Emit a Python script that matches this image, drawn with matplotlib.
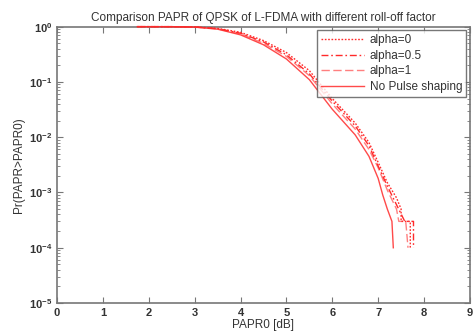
import matplotlib
matplotlib.use("Agg")
import matplotlib.pyplot as plt

plt.rcParams['font.family'] = ['Liberation Sans', 'DejaVu Sans']

# CCDF curves
papr_a0 = [1.75, 2.5, 3.0, 3.5, 4.0, 4.5, 5.0, 5.5, 6.0, 6.5, 6.8, 7.0, 7.2, 7.4, 7.5, 7.5, 7.7, 7.7]
ccdf_a0 = [1.0, 0.999, 0.99, 0.93, 0.79, 0.56, 0.34, 0.16, 0.05, 0.018, 0.008, 0.0035, 0.0015, 0.0008, 0.0005, 0.0003, 0.0003, 0.0001]

papr_a05 = [1.75, 2.5, 3.0, 3.5, 4.0, 4.5, 5.0, 5.5, 6.0, 6.5, 6.8, 7.0, 7.2, 7.4, 7.58, 7.6, 7.77, 7.77]
ccdf_a05 = [1.0, 0.999, 0.987, 0.92, 0.76, 0.53, 0.31, 0.14, 0.045, 0.016, 0.007, 0.003, 0.0013, 0.0006, 0.0003, 0.0003, 0.0003, 0.0001]

papr_a1 = [1.75, 2.5, 3.0, 3.5, 4.0, 4.5, 5.0, 5.5, 6.0, 6.5, 6.8, 7.0, 7.2, 7.4, 7.45, 7.6, 7.62, 7.65]
ccdf_a1 = [1.0, 0.999, 0.985, 0.91, 0.74, 0.5, 0.29, 0.13, 0.04, 0.014, 0.006, 0.0028, 0.0011, 0.0005, 0.0003, 0.0003, 0.0002, 0.0001]

papr_np = [1.75, 2.5, 3.0, 3.5, 4.0, 4.5, 5.0, 5.5, 6.0, 6.5, 6.8, 7.0, 7.1, 7.2, 7.3, 7.33]
ccdf_np = [1.0, 0.999, 0.98, 0.9, 0.71, 0.47, 0.26, 0.11, 0.032, 0.011, 0.0045, 0.0018, 0.0009, 0.0005, 0.0003, 0.0001]

labels = ['alpha=0', 'alpha=0.5', 'alpha=1', 'No Pulse shaping']
xticks = list(range(0, 10))

fig = plt.figure(figsize=(4.73, 3.33), dpi=100)
ax = fig.add_axes([0.1205, 0.09, 0.873, 0.83])

red = '#ff2a2a'
ax.semilogy(papr_a0, ccdf_a0, color=red, ls=(0, (1.2, 1.2)), lw=1, label=labels[0], clip_on=False, zorder=3)
ax.semilogy(papr_a05, ccdf_a05, color=red, ls=(0, (5, 2, 1.2, 2)), lw=1, label=labels[1], clip_on=False, zorder=3)
ax.semilogy(papr_a1, ccdf_a1, color=red, ls=(0, (6, 2.5)), lw=1, alpha=0.6, label=labels[2], clip_on=False, zorder=3)
ax.semilogy(papr_np, ccdf_np, color=red, ls='-', lw=1, alpha=0.85, label=labels[3], clip_on=False, zorder=3)

ax.set_xlim(0, 9)
ax.set_ylim(1e-5, 1)
ax.set_xticks(xticks)

for s in ax.spines.values():
    s.set_color('#777777')
    s.set_linewidth(1.2)
ax.tick_params(which='both', direction='in', top=True, right=True, colors='#777777',
               labelcolor='#333333', labelsize=8)
ax.tick_params(which='major', length=4)
ax.tick_params(which='minor', length=2)
for t in ax.get_xticklabels() + ax.get_yticklabels():
    t.set_fontweight('bold')

ax.set_title('Comparison PAPR of QPSK of L-FDMA with different roll-off factor',
             fontsize=8.5, color='#333333', pad=4)
ax.set_xlabel('PAPR0 [dB]', fontsize=8.5, color='#333333', labelpad=1)
ax.set_ylabel('Pr(PAPR>PAPR0)', fontsize=8.5, color='#333333', labelpad=3)

leg = ax.legend(loc='upper right', fontsize=8.5, frameon=True, fancybox=False,
                edgecolor='#555555', borderaxespad=0.3, handlelength=3.6,
                handletextpad=0.5, labelspacing=0.3, borderpad=0.35)
leg.get_frame().set_linewidth(1.0)
for t in leg.get_texts():
    t.set_color('#333333')

fig.savefig('out.png', dpi=100)
